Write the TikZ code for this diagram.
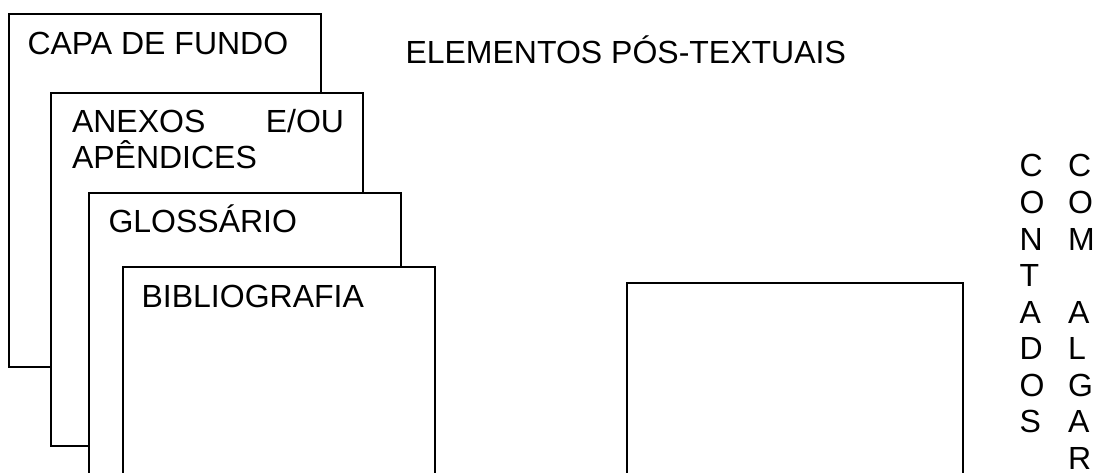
\documentclass[tikz,border=0pt]{standalone}
\usepackage{fontspec}
\setmainfont{Liberation Sans}
\begin{document}
\begin{tikzpicture}[x=1pt,y=-1pt,
  page/.style={draw=black,line width=1.6pt,fill=white,rectangle,anchor=north west,outer sep=0pt,inner sep=0pt},
  lbl/.style={anchor=base west,inner sep=0pt,outer sep=0pt,font=\fontsize{32}{36}\selectfont},
  vlet/.style={anchor=base west,inner sep=0pt,outer sep=0pt,font=\fontsize{32}{36}\selectfont}]
\useasboundingbox (0,0) rectangle (1097,473);
\begin{scope}
\clip (0,0) rectangle (1097,473);
\node[page,minimum width=312pt,minimum height=353pt] (capa) at (9,14) {};
\node[page,minimum width=312pt,minimum height=353pt] (anexos) at (51,93) {};
\node[page,minimum width=312pt,minimum height=300pt] (gloss) at (89,193) {};
\node[page,minimum width=312pt,minimum height=230pt] (biblio) at (123,267) {};
\node[page,minimum width=336pt,minimum height=210pt] (outro) at (627,283) {};
\end{scope}
\node[lbl] (tcapa) at (27.5,55) {CAPA DE FUNDO};
\node[lbl] (titulo) at (405.5,64) {ELEMENTOS PÓS-TEXTUAIS};
\node[lbl] (tanexos1) at (72,133) {\makebox[272pt][s]{ANEXOS\hfill E/OU}};
\node[lbl] (tanexos2) at (72,169) {APÊNDICES};
\node[lbl] (tgloss) at (108.5,233) {GLOSSÁRIO};
\node[lbl] (tbiblio) at (141.6,307) {BIBLIOGRAFIA};
\foreach \l [count=\k from 0] in {C,O,N,T,A,D,O,S}
  \node[vlet] (va\k) at (1019.5,177+36.5*\k) {\l};
\foreach \l/\k in {C/0,O/1,M/2,A/4,L/5,G/6,A/7,R/8}
  \node[vlet] (vb\k) at (1068,177+36.5*\k) {\l};
\end{tikzpicture}
\end{document}
